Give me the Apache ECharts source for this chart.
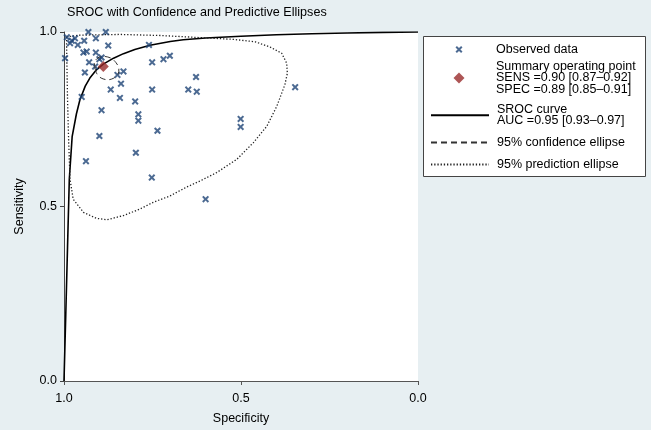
<!DOCTYPE html>
<html>
<head>
<meta charset="utf-8">
<script src="https://cdn.jsdelivr.net/npm/echarts@6/dist/echarts.min.js"></script>
<style>
html, body { margin: 0; padding: 0; background: #e7eff2; }
#chart { width: 651px; height: 430px; }
</style>
</head>
<body>
<div id="chart"></div>
<script>
// observed studies (specificity, sensitivity)
var obsSpec = [0.992, 0.978, 0.969, 0.983, 0.931, 0.882, 0.910, 0.961, 0.943, 0.875,
    0.997, 0.945, 0.936, 0.910, 0.929, 0.912, 0.900, 0.894, 0.941, 0.849,
    0.832, 0.839, 0.868, 0.842, 0.950, 0.894, 0.799, 0.790, 0.790, 0.900,
    0.736, 0.760, 0.719, 0.701, 0.751, 0.627, 0.649, 0.625, 0.751, 0.797,
    0.752, 0.600, 0.501, 0.501, 0.347, 0.938];
var obsSens = [0.985, 0.975, 0.982, 0.968, 1.000, 1.000, 0.982, 0.963, 0.975, 0.961,
    0.925, 0.941, 0.944, 0.941, 0.913, 0.901, 0.922, 0.927, 0.884, 0.877,
    0.887, 0.852, 0.835, 0.811, 0.814, 0.776, 0.801, 0.764, 0.746, 0.702,
    0.717, 0.963, 0.922, 0.932, 0.913, 0.871, 0.835, 0.829, 0.835, 0.654,
    0.583, 0.521, 0.751, 0.728, 0.842, 0.630];

// summary operating point
var summarySpec = 0.889;
var summarySens = 0.901;

// SROC curve
var srocSpec = [1.0, 0.995, 0.99, 0.985, 0.977, 0.965, 0.955, 0.94, 0.927, 0.91, 0.889,
    0.86, 0.832, 0.8, 0.757, 0.7, 0.663, 0.6, 0.5, 0.4, 0.3, 0.2, 0.1, 0.0];
var srocSens = [0.0, 0.19, 0.385, 0.578, 0.70, 0.765, 0.806, 0.845, 0.868, 0.89, 0.908,
    0.925, 0.938, 0.950, 0.962, 0.973, 0.978, 0.983, 0.988, 0.992, 0.995, 0.997, 0.999, 1.0];

// 95% confidence ellipse
var confSpec = [0.912, 0.907, 0.895, 0.876, 0.859, 0.847, 0.845, 0.853, 0.867, 0.887, 0.904, 0.914, 0.912];
var confSens = [0.895, 0.880, 0.868, 0.863, 0.868, 0.880, 0.895, 0.912, 0.925, 0.930, 0.926, 0.912, 0.895];

// 95% prediction ellipse
var predSpec = [0.993, 0.955, 0.842, 0.729, 0.616, 0.523, 0.460, 0.418, 0.385, 0.371, 0.369,
    0.376, 0.399, 0.427, 0.465, 0.512, 0.569, 0.616, 0.653, 0.701, 0.748, 0.785, 0.832,
    0.879, 0.908, 0.945, 0.974, 0.983, 0.987, 0.990, 0.992, 0.993];
var predSens = [0.986, 0.991, 0.993, 0.990, 0.984, 0.979, 0.972, 0.957, 0.939, 0.911, 0.882,
    0.849, 0.787, 0.730, 0.683, 0.635, 0.597, 0.573, 0.556, 0.530, 0.512, 0.493, 0.474,
    0.462, 0.466, 0.483, 0.521, 0.578, 0.692, 0.806, 0.920, 0.986];

var legendLines = {
    'Observed data': 'Observed data',
    'Summary operating point': 'Summary operating point\nSENS =0.90 [0.87\u20130.92]\nSPEC =0.89 [0.85\u20130.91]',
    'SROC curve': 'SROC curve\nAUC =0.95 [0.93\u20130.97]',
    '95% confidence ellipse': '95% confidence ellipse',
    '95% prediction ellipse': '95% prediction ellipse'
};

function pairs(xs, ys) {
    return xs.map(function (x, i) { return [x, ys[i]]; });
}

var font = 'Liberation Sans, Arial, Helvetica, sans-serif';
var crossPath = 'path://M0,2 L2,0 L5,3 L8,0 L10,2 L7,5 L10,8 L8,10 L5,7 L2,10 L0,8 L3,5 Z';
var diamondPath = 'path://M5,0 L10,5 L5,10 L0,5 Z';

// icon box is 58 wide; when the icon is a small symbol the legend is
// aligned on its bounding box, so shift it by the empty part on the left
function legendFor(name, top, iconH, symbolW) {
    var lg = {
        data: [name],
        left: 430 + (symbolW ? (58 - symbolW) / 2 : 0),
        top: top,
        padding: 0,
        itemWidth: 58,
        itemHeight: iconH,
        selectedMode: false,
        formatter: function (n) { return legendLines[n]; },
        textStyle: { fontFamily: font, fontSize: 12.5, lineHeight: 11.5, color: '#000', padding: [0, 0, 0, 3] }
    };
    if (!symbolW) {
        lg.itemStyle = { opacity: 0 };
    }
    return lg;
}

var chart = echarts.init(document.getElementById('chart'));
chart.setOption({
    backgroundColor: '#e7eff2',
    animation: false,
    title: {
        text: 'SROC with Confidence and Predictive Ellipses',
        left: 62,
        top: 1,
        textStyle: { fontFamily: font, fontSize: 12.6, fontWeight: 'normal', color: '#000' }
    },
    graphic: [{
        type: 'rect',
        z: -1,
        shape: { x: 423.5, y: 36.5, width: 222, height: 140 },
        style: { fill: '#fff', stroke: '#444', lineWidth: 1 }
    }],
    legend: [
        legendFor('Observed data', 43, 7, 7),
        legendFor('Summary operating point', 60, 11, 11),
        legendFor('SROC curve', 103, 8),
        legendFor('95% confidence ellipse', 136, 8),
        legendFor('95% prediction ellipse', 158, 8)
    ],
    grid: {
        left: 64, right: 233, top: 32, bottom: 47,
        show: true, backgroundColor: '#fff', borderWidth: 0
    },
    xAxis: {
        type: 'value',
        min: 0, max: 1, interval: 0.5,
        inverse: true,
        name: 'Specificity',
        nameLocation: 'middle',
        nameGap: 31,
        nameTextStyle: { fontFamily: font, fontSize: 12.5, color: '#000' },
        axisLine: { onZero: false, lineStyle: { color: '#555', width: 1 } },
        axisTick: { show: true, length: 4, lineStyle: { color: '#555' } },
        axisLabel: { fontFamily: font, fontSize: 12.5, color: '#000', margin: 11,
            formatter: function (v) { return v.toFixed(1); } },
        splitLine: { show: false }
    },
    yAxis: {
        type: 'value',
        position: 'left',
        min: 0, max: 1, interval: 0.5,
        name: 'Sensitivity',
        nameLocation: 'middle',
        nameGap: 38,
        nameRotate: 90,
        nameTextStyle: { fontFamily: font, fontSize: 12.5, color: '#000' },
        axisLine: { show: true, onZero: false, lineStyle: { color: '#444', width: 1 } },
        axisTick: { show: true, length: 4, lineStyle: { color: '#444' } },
        axisLabel: { fontFamily: font, fontSize: 12.5, color: '#000', margin: 7,
            formatter: function (v) { return v.toFixed(1); } },
        splitLine: { show: false }
    },
    series: [
        {
            name: 'Observed data',
            type: 'scatter',
            symbol: crossPath,
            symbolSize: 7,
            itemStyle: { color: '#1f4577' },
            data: pairs(obsSpec, obsSens),
            z: 4
        },
        {
            name: 'Summary operating point',
            type: 'scatter',
            symbol: diamondPath,
            symbolSize: 11,
            itemStyle: { color: '#982b2b' },
            data: [[summarySpec, summarySens]],
            z: 6
        },
        {
            name: 'SROC curve',
            type: 'line',
            symbol: 'none',
            lineStyle: { color: '#000', width: 1.6 },
            data: pairs(srocSpec, srocSens),
            z: 3
        },
        {
            name: '95% confidence ellipse',
            type: 'line',
            symbol: 'none',
            smooth: 0.3,
            lineStyle: { color: '#333', width: 1, type: [6, 4] },
            data: pairs(confSpec, confSens),
            z: 5
        },
        {
            name: '95% prediction ellipse',
            type: 'line',
            symbol: 'none',
            lineStyle: { color: '#222', width: 1.3, type: [1.3, 1.9] },
            data: pairs(predSpec, predSens),
            z: 3
        }
    ]
});
</script>
</body>
</html>
